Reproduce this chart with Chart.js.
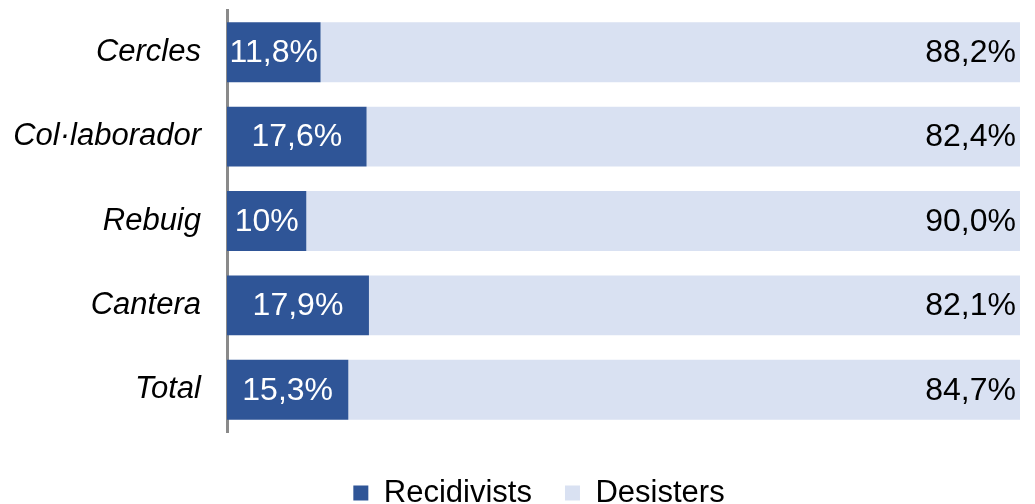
<!DOCTYPE html>
<html>
<head>
<meta charset="utf-8">
<script src="https://cdn.jsdelivr.net/npm/chart.js@4/dist/chart.umd.min.js"></script>
<style>
  html, body { margin: 0; padding: 0; background: #fff; }
  #wrap { width: 1035px; height: 504px; }
</style>
</head>
<body>
<div id="wrap"><canvas id="grafica"></canvas></div>
<script>
// Percentatge de recidivistes i desistents per programa
const categories = ['Cercles', 'Col·laborador', 'Rebuig', 'Cantera', 'Total']
const recidivists = [11.8, 17.6, 10, 17.9, 15.3]
const desisters = [88.2, 82.4, 90.0, 82.1, 84.7]

Chart.defaults.font.family = '"Liberation Sans", Arial, sans-serif'
Chart.defaults.font.size = 31
Chart.defaults.color = '#000'

// etiquetes de valor dins de cada barra
const etiquetes = {
    id: 'etiquetes',
    afterLayout(chart) {
        // llegenda centrada sota les barres, no sota tot el llenç
        chart.legend.left = 58
    },
    afterDatasetsDraw(chart) {
        const ctx = chart.ctx
        ctx.save()
        ctx.font = '32px "Liberation Sans", Arial, sans-serif'
        ctx.textBaseline = 'middle'
        chart.data.datasets.forEach((ds, i) => {
            const meta = chart.getDatasetMeta(i)
            meta.data.forEach((bar, j) => {
                const v = ds.data[j]
                if (i === 0) {
                    ctx.fillStyle = '#fff'
                    ctx.textAlign = 'center'
                    ctx.fillText(String(v).replace('.', ',') + '%', (bar.x + bar.base) / 2, bar.y + 1)
                } else {
                    ctx.fillStyle = '#000'
                    ctx.textAlign = 'right'
                    ctx.fillText(v.toFixed(1).replace('.', ',') + '%', bar.x - 4, bar.y + 1)
                }
            })
        })
        ctx.restore()
    }
}

new Chart(document.getElementById('grafica'), {
    type: 'bar',
    data: {
        labels: categories,
        datasets: [{
            label: 'Recidivists',
            data: recidivists,
            backgroundColor: '#2F5597',
            categoryPercentage: 1,
            barPercentage: 0.71
        }, {
            label: 'Desisters',
            data: desisters,
            backgroundColor: '#D9E1F2',
            categoryPercentage: 1,
            barPercentage: 0.71
        }]
    },
    options: {
        indexAxis: 'y',
        responsive: true,
        maintainAspectRatio: false,
        animation: false,
        layout: {
            padding: {top: 10, right: 15, bottom: -14.5, left: 0}
        },
        scales: {
            x: {
                stacked: true,
                min: 0,
                max: 100,
                grid: {display: false},
                border: {display: false},
                ticks: {display: false},
                // espai buit entre l'eix i la llegenda
                afterFit(scale) { scale.height = 12.5 }
            },
            y: {
                stacked: true,
                grid: {display: false, drawTicks: false},
                border: {display: true, color: '#8a8a8a', width: 3},
                ticks: {
                    padding: 26,
                    font: {size: 31, style: 'italic'},
                    color: '#000'
                },
                afterFit(scale) {
                    scale.width = 227
                    scale.paddingTop = 0
                    scale.paddingBottom = 0
                }
            }
        },
        plugins: {
            legend: {
                position: 'bottom',
                labels: {
                    boxWidth: 15,
                    boxHeight: 15,
                    padding: 33,
                    font: {size: 31}
                }
            },
            tooltip: {enabled: false}
        }
    },
    plugins: [etiquetes]
});
</script>
</body>
</html>
